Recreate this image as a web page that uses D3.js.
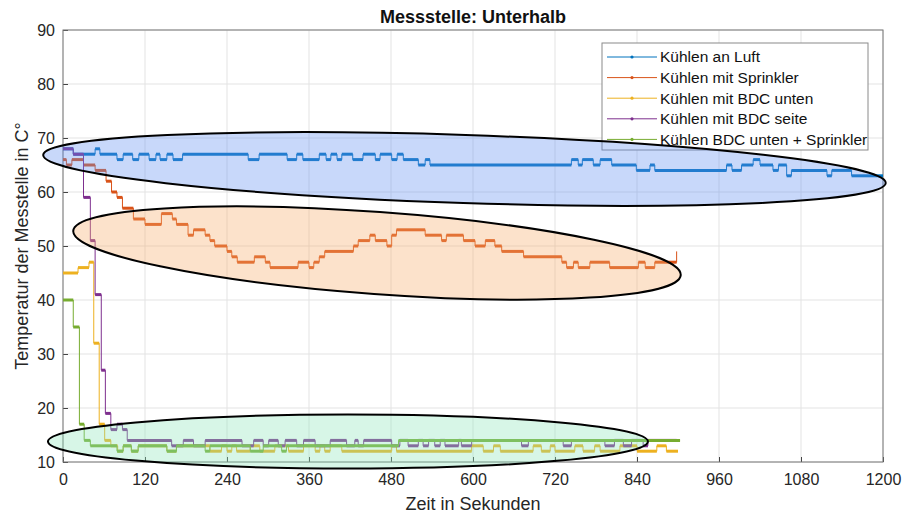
<!DOCTYPE html>
<html>
<head>
<meta charset="utf-8">
<script src="https://cdn.jsdelivr.net/npm/d3@7"></script>
<style>
body{margin:0;background:#fff;}
svg{font-family:"Liberation Sans",Arial,Helvetica,sans-serif;}
</style>
</head>
<body>
<script>
//tick labels
var xTicks = [0, 120, 240, 360, 480, 600, 720, 840, 960, 1080, 1200];
var yTicks = [10, 20, 30, 40, 50, 60, 70, 80, 90];

//series names and colours (matlab defaults)
var seriesNames = ["Kühlen an Luft", "Kühlen mit Sprinkler", "Kühlen mit BDC unten", "Kühlen mit BDC seite", "Kühlen BDC unten + Sprinkler"];
var seriesColors = ["#0072BD", "#D95319", "#EDB120", "#7E2F8E", "#77AC30"];

//Kühlen an Luft: time of each step (s) and temperature (°C)
var luftTime = [0,15,47,54,79,88,102,111,126,136,142,152,161,175,271,287,328,342,351,375,385,392,401,408,424,439,457,464,481,489,498,520,530,537,744,754,760,776,786,803,839,859,866,971,979,993,1010,1020,1039,1047,1059,1066,1118,1125,1154,1200];
var luftTemp = [68,67,68,67,66,67,66,67,66,67,66,67,66,67,66,67,66,67,66,67,66,67,66,67,66,67,66,67,66,67,66,65,66,65,66,65,66,65,66,65,64,65,64,65,64,65,66,65,64,65,63,64,63,64,63,63];

//Kühlen mit Sprinkler
var sprinklerTime = [0,5,13,30,47,63,71,79,87,103,120,144,160,166,183,191,208,215,222,240,247,255,280,296,303,344,360,367,375,383,425,432,449,457,474,481,488,530,554,561,586,603,618,632,642,674,730,737,747,754,771,800,842,852,866,898];
var sprinklerTemp = [66,65,66,65,64,62,60,59,57,55,54,56,55,54,52,53,52,51,50,49,48,47,48,47,46,47,46,47,48,49,50,51,52,51,50,52,53,52,51,52,51,50,51,50,49,48,47,46,47,46,47,46,47,46,47,49];

//Kühlen mit BDC unten
var untenTime = [0,22,38,45,53,61,70,80,88,100,110,152,166,215,232,240,247,254,274,288,310,330,352,369,376,383,391,408,481,488,598,615,630,640,688,700,713,720,749,761,778,786,815,840,869,883,900];
var untenTemp = [45,46,47,32,17,14,13,12,13,12,13,12,13,12,13,12,13,12,13,12,13,12,13,12,13,12,13,12,13,12,13,12,13,12,13,12,13,12,13,12,13,12,13,12,13,12,12];

//Kühlen mit BDC seite
var seiteTime = [0,15,30,40,47,56,62,70,79,87,94,159,176,191,208,262,279,293,301,315,325,342,352,369,391,415,427,432,440,481,493,505,520,527,535,544,552,559,579,583,598,671,681,732,744,793,807,820,832,849,856,898];
var seiteTemp = [68,67,59,51,41,27,19,16,17,16,14,13,14,13,14,13,14,13,14,13,14,13,14,13,14,13,14,13,14,13,14,13,14,13,14,13,14,13,14,13,14,13,14,13,14,13,14,13,14,13,14,14];

//Kühlen BDC unten + Sprinkler
var beideTime = [0,15,24,31,40,79,88,100,110,152,166,208,215,274,293,320,327,491,903];
var beideTemp = [40,35,17,14,13,12,13,12,13,12,13,12,13,12,13,12,13,14,14];

//hand drawn ellipses: two tips (time, temp) and half height in °C
var ellipseTips = [[-29, 66.85, 1204, 61.67], [15, 52.8, 904, 44.6], [-22, 13.8, 856, 13.8]];
var ellipseHalf = [6.3, 7.6, 5];
var ellipseFill = ["rgb(98,144,241)", "rgb(247,172,107)", "rgb(140,228,186)"];

window.onload = drawChart();

function drawChart(){

    var width = 904,
        height = 514;

    var svg = d3.select("body")
        .append("svg")
        .attr("width", width)
        .attr("height", height);

    var x = d3.scaleLinear().domain([0, 1200]).range([63, 883]);
    var y = d3.scaleLinear().domain([10, 90]).range([462, 30]);

    //grid lines
    svg.selectAll(".xgrid")
        .data(xTicks)
        .enter()
        .append("line")
        .attr("x1", function(d){ return x(d); })
        .attr("x2", function(d){ return x(d); })
        .attr("y1", y(10))
        .attr("y2", y(90))
        .attr("stroke", "#e3e3e3");

    svg.selectAll(".ygrid")
        .data(yTicks)
        .enter()
        .append("line")
        .attr("x1", x(0))
        .attr("x2", x(1200))
        .attr("y1", function(d){ return y(d); })
        .attr("y2", function(d){ return y(d); })
        .attr("stroke", "#e3e3e3");

    //axes, ticks pointing inwards
    var xAxis = svg.append("g")
        .attr("transform", "translate(0," + y(10) + ")")
        .call(d3.axisBottom(x).tickValues(xTicks).tickFormat(d3.format("d")).tickSizeInner(-5).tickSizeOuter(0).tickPadding(12));

    var yAxis = svg.append("g")
        .attr("transform", "translate(" + x(0) + ",0)")
        .call(d3.axisLeft(y).tickValues(yTicks).tickFormat(d3.format("d")).tickSizeInner(-5).tickSizeOuter(0).tickPadding(8));

    svg.selectAll(".domain").remove();
    svg.selectAll(".tick line").attr("stroke", "#444");
    svg.selectAll(".tick text")
        .attr("fill", "#262626")
        .style("font-size", "16px")
        .style("font-family", "'Liberation Sans', Arial, sans-serif");

    //box
    svg.append("rect")
        .attr("x", x(0))
        .attr("y", y(90))
        .attr("width", x(1200) - x(0))
        .attr("height", y(10) - y(90))
        .attr("fill", "none")
        .attr("stroke", "#777");

    //series
    var allSeries = [
        {time: luftTime, temp: luftTemp},
        {time: sprinklerTime, temp: sprinklerTemp},
        {time: untenTime, temp: untenTemp},
        {time: seiteTime, temp: seiteTemp},
        {time: beideTime, temp: beideTemp}
    ];

    var stepLine = d3.line()
        .x(function(d){ return x(d[0]); })
        .y(function(d){ return y(d[1]); })
        .curve(d3.curveStepAfter);

    allSeries.forEach(function(s, i){
        var pts = s.time.map(function(t, j){ return [t, s.temp[j]]; });
        var g = svg.append("g").attr("class", "series");

        //thin step line
        g.append("path")
            .datum(pts)
            .attr("d", stepLine)
            .attr("fill", "none")
            .attr("stroke", seriesColors[i])
            .attr("stroke-width", 1);

        //dense markers make the flat parts look thick
        g.selectAll(".flat")
            .data(pts.slice(0, -1))
            .enter()
            .append("line")
            .attr("x1", function(d){ return x(d[0]); })
            .attr("x2", function(d, j){ return x(pts[j + 1][0]); })
            .attr("y1", function(d){ return y(d[1]); })
            .attr("y2", function(d){ return y(d[1]); })
            .attr("stroke", seriesColors[i])
            .attr("stroke-width", 3);
    });

    //title and labels
    svg.append("text")
        .attr("x", 473)
        .attr("y", 23)
        .attr("text-anchor", "middle")
        .style("font-size", "18px")
        .style("font-weight", "bold")
        .attr("fill", "#111")
        .text("Messstelle: Unterhalb");

    svg.append("text")
        .attr("x", 473)
        .attr("y", 510)
        .attr("text-anchor", "middle")
        .style("font-size", "18px")
        .attr("fill", "#262626")
        .text("Zeit in Sekunden");

    svg.append("text")
        .attr("transform", "translate(28," + (y(50)) + ") rotate(-90)")
        .attr("text-anchor", "middle")
        .style("font-size", "18px")
        .attr("fill", "#262626")
        .text("Temperatur der Messtelle in C°");

    //legend
    var legend = svg.append("g").attr("transform", "translate(602,43)");
    legend.append("rect")
        .attr("width", 266)
        .attr("height", 107)
        .attr("fill", "#fff")
        .attr("stroke", "#8a8a8a");

    var items = legend.selectAll(".item")
        .data(seriesNames)
        .enter()
        .append("g")
        .attr("transform", function(d, i){ return "translate(0," + (14 + i * 20.6) + ")"; });

    items.append("line")
        .attr("x1", 5).attr("x2", 55)
        .attr("stroke", function(d, i){ return seriesColors[i]; })
        .attr("stroke-width", 1);
    items.append("circle")
        .attr("cx", 30).attr("r", 1.6)
        .attr("fill", function(d, i){ return seriesColors[i]; });
    items.append("text")
        .attr("x", 58)
        .attr("dy", "0.35em")
        .style("font-size", "15.5px")
        .attr("fill", "#111")
        .text(function(d){ return d; });

    //ellipses drawn over everything
    ellipseTips.forEach(function(e, i){
        var x1 = x(e[0]), y1 = y(e[1]), x2 = x(e[2]), y2 = y(e[3]);
        var cx = (x1 + x2) / 2, cy = (y1 + y2) / 2;
        var rx = Math.sqrt((x2 - x1) * (x2 - x1) + (y2 - y1) * (y2 - y1)) / 2;
        var ry = y(10) - y(10 + ellipseHalf[i]);
        var angle = Math.atan2(y2 - y1, x2 - x1) * 180 / Math.PI;
        svg.append("ellipse")
            .attr("cx", cx)
            .attr("cy", cy)
            .attr("rx", rx)
            .attr("ry", ry)
            .attr("transform", "rotate(" + angle + "," + cx + "," + cy + ")")
            .attr("fill", ellipseFill[i])
            .attr("fill-opacity", 0.35)
            .attr("stroke", "#000")
            .attr("stroke-width", 2);
    });
};
</script>
</body>
</html>
